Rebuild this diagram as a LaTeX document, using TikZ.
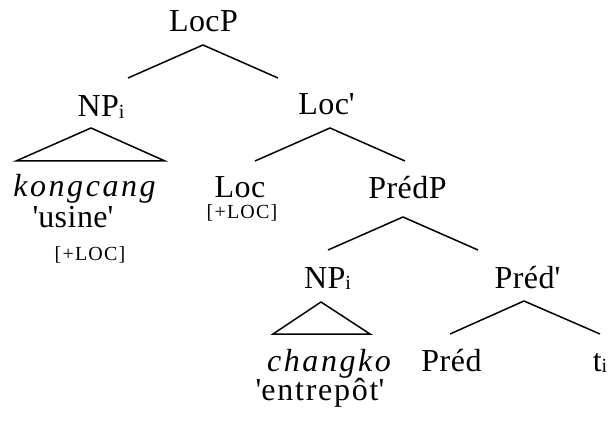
\documentclass[tikz,border=0pt]{standalone}
\usepackage{fontspec}
\setmainfont{Liberation Serif}[LetterSpace=1.5,ItalicFeatures={LetterSpace=8}]
\newfontfamily\featfont{Liberation Serif}[LetterSpace=6]
\newcommand{\trsub}[1]{\raisebox{-0.6pt}{\fontsize{10}{10}\selectfont #1}}
\newcommand{\qt}{\textquotesingle}

\begin{document}
\begin{tikzpicture}[
    x=0.5pt, y=-0.5pt,
    cat/.style={anchor=base, inner sep=0pt, font=\fontsize{16}{18}\selectfont},
    feat/.style={anchor=base, inner sep=0pt, font=\fontsize{10}{12}\selectfont\featfont},
    branch/.style={line width=0.75pt, line join=miter}
]
\useasboundingbox (0,0) rectangle (608,421);

% Categories
\node[cat] (locp) at (203.5, 32) {LocP};
\node[cat] (np1) at (101, 117) {NP\trsub{i}};
\node[cat] (locbar) at (326.5, 115) {Loc\qt};
\node[cat] (loc) at (240, 198) {Loc};
\node[cat] (predp) at (407.5, 199) {Pr\'edP};
\node[cat] (np2) at (327.5, 288) {NP\trsub{i}};
\node[cat] (predbar) at (527.5, 288) {Pr\'ed\qt};
\node[cat] (pred) at (451.5, 371) {Pr\'ed};
\node[cat] (ti) at (600, 371) {t\trsub{i}};

% Words and glosses
\node[cat] (kong) at (84.5, 197) {\itshape kongcang};
\node[cat] (usine) at (73, 228) {\qt usine\qt};
\node[feat] (feat1) at (90, 261) {[+LOC]};
\node[feat] (feat2) at (242, 219) {[+LOC]};
\node[cat] (chang) at (329, 371) {\addfontfeature{LetterSpace=6}\itshape changko};
\node[cat] (entre) at (320, 400) {\addfontfeature{LetterSpace=5.5}\qt entrep\^ot\qt};

% Branch points
\coordinate (locp-a) at (203, 45);
\coordinate (np1-t) at (128, 78);
\coordinate (locbar-t) at (278, 78);
\coordinate (locbar-a) at (330, 128);
\coordinate (loc-t) at (255, 161);
\coordinate (predp-t) at (405, 161);
\coordinate (predp-a) at (403, 217);
\coordinate (np2-t) at (328, 250);
\coordinate (predbar-t) at (478, 250);
\coordinate (predbar-a) at (524, 301);
\coordinate (pred-t) at (450, 334);
\coordinate (ti-t) at (600, 334);

% Triangles
\coordinate (np1-a) at (91, 128);
\coordinate (np1-l) at (16, 161);
\coordinate (np1-r) at (165, 161);
\coordinate (np2-a) at (321, 302);
\coordinate (np2-l) at (273, 334);
\coordinate (np2-r) at (370, 334);

\draw[branch] (np1-t) -- (locp-a) -- (locbar-t);
\draw[branch] (loc-t) -- (locbar-a) -- (predp-t);
\draw[branch] (np2-t) -- (predp-a) -- (predbar-t);
\draw[branch] (pred-t) -- (predbar-a) -- (ti-t);
\draw[branch] (np1-a) -- (np1-l) -- (np1-r) -- cycle;
\draw[branch] (np2-a) -- (np2-l) -- (np2-r) -- cycle;

\end{tikzpicture}
\end{document}
